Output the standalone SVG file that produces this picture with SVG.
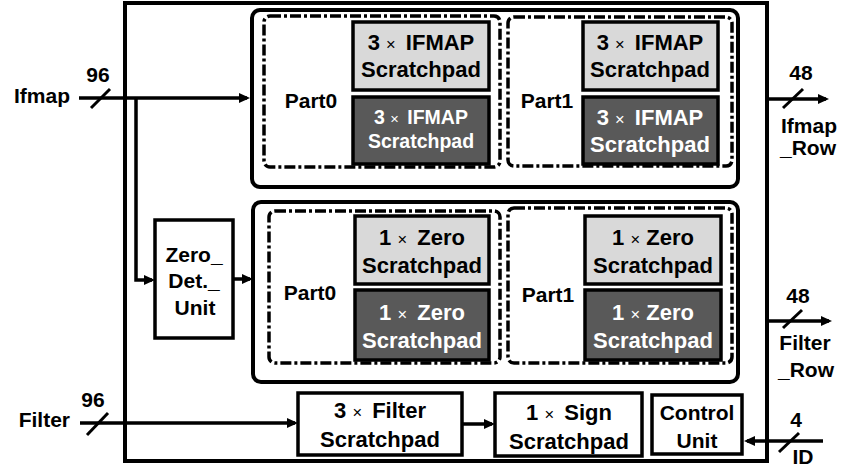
<svg xmlns="http://www.w3.org/2000/svg" width="846" height="467" viewBox="0 0 846 467">
<defs>
<style>
text{font-family:"Liberation Sans",Arial,sans-serif;font-weight:bold;fill:#000;text-anchor:middle}
.t22{font-size:22px}
.t21{font-size:21px}
.t19{font-size:19.5px}
.w{fill:#fff}
.x{font-weight:normal;font-size:0.75em}
.box{fill:#fff;stroke:#000;stroke-width:3.5}
.big{fill:none;stroke:#000;stroke-width:4}
.dash{fill:none;stroke:#000;stroke-width:3.5;stroke-dasharray:11 3 3 3}
.light{fill:#d9d9d9;stroke:#000;stroke-width:3.5}
.dark{fill:#595959;stroke:#000;stroke-width:3.5}
.wire{fill:none;stroke:#000;stroke-width:3.5}
.slash{stroke:#000;stroke-width:3}
</style>
<marker id="ah" markerUnits="userSpaceOnUse" markerWidth="12" markerHeight="12" refX="8" refY="5" orient="auto">
<path d="M0,0 L11,5 L0,10 z" fill="#000"/>
</marker>
</defs>

<g id="outer">
<rect x="125" y="3" width="642" height="458" class="big"/>
</g>

<g id="ifmap-group">
<rect x="252" y="10" width="486" height="177" rx="8" class="big"/>
</g>
<g id="zero-group">
<rect x="253" y="202" width="485" height="180" rx="8" class="big"/>
</g>

<g id="ifmap-part0">
<rect x="264" y="16" width="236" height="151" rx="6" class="dash"/>
<text class="t21" x="311" y="108">Part0</text>
</g>
<g id="ifmap-part1">
<rect x="508" y="17" width="224" height="149" rx="6" class="dash"/>
<text class="t21" x="547" y="108">Part1</text>
</g>
<g id="zero-part0">
<rect x="269" y="211" width="231" height="152" rx="6" class="dash"/>
<text class="t21" x="310" y="300">Part0</text>
</g>
<g id="zero-part1">
<rect x="508" y="208" width="224" height="155" rx="6" class="dash"/>
<text class="t21" x="548" y="302">Part1</text>
</g>

<g id="ifmap-sp-p0-a">
<rect x="353" y="22" width="136" height="68" class="light"/>
<text class="t22" x="421" y="50">3 <tspan class="x">×</tspan><tspan dx="4"> IFMAP</tspan></text>
<text class="t22" x="421" y="77">Scratchpad</text>
</g>
<g id="ifmap-sp-p0-b">
<rect x="353" y="97" width="136" height="67" class="dark"/>
<text class="t19 w" x="421" y="124">3 <tspan class="x">×</tspan><tspan dx="3"> IFMAP</tspan></text>
<text class="t19 w" x="421" y="148">Scratchpad</text>
</g>
<g id="ifmap-sp-p1-a">
<rect x="583" y="22" width="135" height="68" class="light"/>
<text class="t22" x="650" y="50">3 <tspan class="x">×</tspan><tspan dx="4"> IFMAP</tspan></text>
<text class="t22" x="650" y="77">Scratchpad</text>
</g>
<g id="ifmap-sp-p1-b">
<rect x="583" y="97" width="135" height="67" class="dark"/>
<text class="t22 w" x="650" y="125">3 <tspan class="x">×</tspan><tspan dx="4"> IFMAP</tspan></text>
<text class="t22 w" x="650" y="152">Scratchpad</text>
</g>

<g id="zero-sp-p0-a">
<rect x="355" y="216" width="134" height="68" class="light"/>
<text class="t22" x="422" y="245">1 <tspan class="x">×</tspan><tspan dx="4"> Zero</tspan></text>
<text class="t22" x="422" y="273">Scratchpad</text>
</g>
<g id="zero-sp-p0-b">
<rect x="355" y="290" width="134" height="70" class="dark"/>
<text class="t22 w" x="422" y="320">1 <tspan class="x">×</tspan><tspan dx="4"> Zero</tspan></text>
<text class="t22 w" x="422" y="348">Scratchpad</text>
</g>
<g id="zero-sp-p1-a">
<rect x="585" y="216" width="136" height="68" class="light"/>
<text class="t22" x="653" y="245">1 <tspan class="x">×</tspan> Zero</text>
<text class="t22" x="653" y="273">Scratchpad</text>
</g>
<g id="zero-sp-p1-b">
<rect x="585" y="290" width="136" height="70" class="dark"/>
<text class="t22 w" x="653" y="320">1 <tspan class="x">×</tspan> Zero</text>
<text class="t22 w" x="653" y="348">Scratchpad</text>
</g>

<g id="zero-det-unit">
<rect x="155" y="220" width="78" height="118" class="box"/>
<text class="t21" x="194" y="262">Zero_</text>
<text class="t21" x="194" y="288">Det._</text>
<text class="t21" x="195" y="315">Unit</text>
</g>

<g id="filter-sp">
<rect x="298" y="393" width="164" height="62" class="box"/>
<text class="t22" x="380" y="418">3 <tspan class="x">×</tspan><tspan dx="4"> Filter</tspan></text>
<text class="t22" x="380" y="447">Scratchpad</text>
</g>
<g id="sign-sp">
<rect x="495" y="393" width="147" height="63" class="box"/>
<text class="t22" x="569" y="420">1 <tspan class="x">×</tspan><tspan dx="4"> Sign</tspan></text>
<text class="t22" x="569" y="449">Scratchpad</text>
</g>
<g id="control-unit">
<rect x="652" y="395" width="90" height="59" class="box"/>
<text class="t21" x="697" y="420">Control</text>
<text class="t21" x="697" y="448">Unit</text>
</g>

<g id="connectors">
<line x1="79" y1="98" x2="247" y2="98" class="wire" marker-end="url(#ah)"/>
<polyline points="136,98 136,280 152,280" class="wire" marker-end="url(#ah)"/>
<line x1="233" y1="279" x2="250" y2="279" class="wire" marker-end="url(#ah)"/>
<line x1="767" y1="99" x2="826" y2="99" class="wire" marker-end="url(#ah)"/>
<line x1="767" y1="321" x2="829" y2="321" class="wire" marker-end="url(#ah)"/>
<line x1="80" y1="423" x2="295" y2="423" class="wire" marker-end="url(#ah)"/>
<line x1="462" y1="424" x2="492" y2="424" class="wire" marker-end="url(#ah)"/>
<line x1="823" y1="441" x2="747" y2="441" class="wire" marker-end="url(#ah)"/>
<line x1="91" y1="108" x2="110" y2="89" class="slash"/>
<line x1="783" y1="108" x2="803" y2="89" class="slash"/>
<line x1="783" y1="328" x2="802" y2="310" class="slash"/>
<line x1="87" y1="435" x2="108" y2="413" class="slash"/>
<line x1="779" y1="452" x2="799" y2="433" class="slash"/>
</g>

<g id="labels">
<text class="t21" x="98" y="82">96</text>
<text class="t21" x="70" y="103" style="text-anchor:end">Ifmap</text>
<text class="t21" x="801" y="80">48</text>
<text class="t21" x="809" y="133">Ifmap</text>
<text class="t21" x="808" y="155">_Row</text>
<text class="t21" x="798" y="303">48</text>
<text class="t21" x="805" y="350">Filter</text>
<text class="t21" x="806" y="377">_Row</text>
<text class="t21" x="93" y="407">96</text>
<text class="t21" x="70" y="427" style="text-anchor:end">Filter</text>
<text class="t21" x="796" y="427">4</text>
<text class="t21" x="803" y="464">ID</text>
</g>
</svg>
